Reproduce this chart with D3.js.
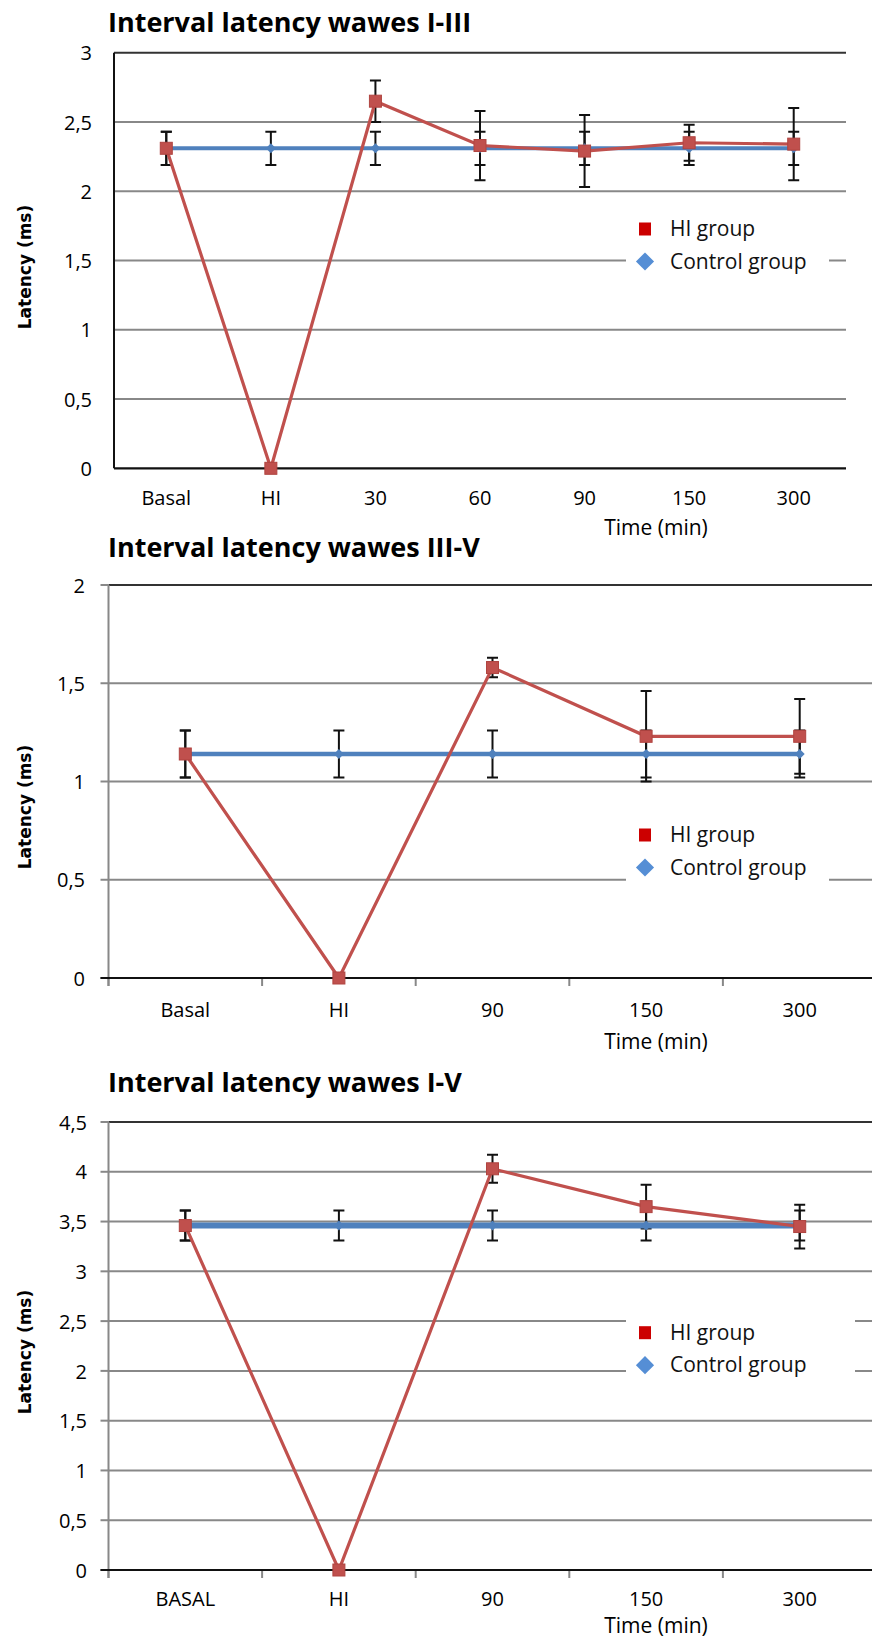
<!DOCTYPE html>
<html>
<head>
<meta charset="utf-8">
<script src="https://cdn.jsdelivr.net/npm/d3@7"></script>
<style>
  body { margin: 0; background: #fff; }
  svg { display: block; }
</style>
</head>
<body>
<svg id="chart" width="872" height="1638"></svg>
<script>
// ---- data ----
var titles = ['Interval latency wawes I-III', 'Interval latency wawes III-V', 'Interval latency wawes I-V'];

var cats1 = ['Basal', 'HI', '30', '60', '90', '150', '300'];
var hi1 = [2.31, 0, 2.65, 2.33, 2.29, 2.35, 2.34];
var hiErr1 = [0.12, null, 0.15, 0.25, 0.26, 0.13, 0.26];
var ctrl1 = [2.31, 2.31, 2.31, 2.31, 2.31, 2.31, 2.31];
var ctrlErr1 = [0.12, 0.12, 0.12, 0.12, 0.12, 0.12, 0.12];
var yTicks1 = [0, 0.5, 1, 1.5, 2, 2.5, 3];

var cats2 = ['Basal', 'HI', '90', '150', '300'];
var hi2 = [1.14, 0, 1.58, 1.23, 1.23];
var hiErr2 = [0.12, null, 0.05, 0.23, 0.19];
var ctrl2 = [1.14, 1.14, 1.14, 1.14, 1.14];
var ctrlErr2 = [0.12, 0.12, 0.12, 0.12, 0.12];
var yTicks2 = [0, 0.5, 1, 1.5, 2];

var cats3 = ['BASAL', 'HI', '90', '150', '300'];
var hi3 = [3.46, 0, 4.03, 3.65, 3.45];
var hiErr3 = [0.15, null, 0.14, 0.22, 0.22];
var ctrl3 = [3.46, 3.46, 3.46, 3.46, 3.46];
var ctrlErr3 = [0.15, 0.15, 0.15, 0.15, 0.15];
var yTicks3 = [0, 0.5, 1, 1.5, 2, 2.5, 3, 3.5, 4, 4.5];

var legendNames = ['HI group', 'Control group'];
var xTitle = 'Time (min)';
var yTitle = 'Latency (ms)';

var RED = '#C0504D', BLUE = '#4F81BD';
var svg = d3.select('#chart');

// layout of the 3 panels
var panels = [
  {title: titles[0], cats: cats1, hi: hi1, hiErr: hiErr1, ctrl: ctrl1, ctrlErr: ctrlErr1, ticks: yTicks1,
   top: 52.7, bottom: 468.3, left: 114, right: 846, titleY: 31.7, catY: 497.6, timeY: 527, yTitleY: 267,
   axisColor: '#111', tickMarks: false, labelRight: 92, legY: 229, legBg: [626, 829, 208, 286], blueW: 4},
  {title: titles[1], cats: cats2, hi: hi2, hiErr: hiErr2, ctrl: ctrl2, ctrlErr: ctrlErr2, ticks: yTicks2,
   top: 585, bottom: 978, left: 108.5, right: 876.5, titleY: 556.7, catY: 1010, timeY: 1041, yTitleY: 807,
   axisColor: '#888', tickMarks: true, labelRight: 85, legY: 835, legBg: [626, 829, 814, 890], blueW: 4.5},
  {title: titles[2], cats: cats3, hi: hi3, hiErr: hiErr3, ctrl: ctrl3, ctrlErr: ctrlErr3, ticks: yTicks3,
   top: 1122, bottom: 1570, left: 108.5, right: 876.5, titleY: 1092.4, catY: 1599, timeY: 1625, yTitleY: 1352,
   axisColor: '#888', tickMarks: true, labelRight: 87, legY: 1332.7, legBg: [626, 855, 1311, 1382], blueW: 6}
];

panels.forEach(drawPanel);

function fmt(v) {
  return String(v).replace('.', ',');
}

function drawPanel(p) {
  var g = svg.append('g');
  var ymax = d3.max(p.ticks);
  var y = d3.scaleLinear().domain([0, ymax]).range([p.bottom, p.top]);
  var x = d3.scaleBand().domain(p.cats).range([p.left, p.right]).padding(0);
  var cx = function(d, i) { return x(p.cats[i]) + x.bandwidth() / 2; };

  // title
  g.append('text')
    .attr('x', 108)
    .attr('y', p.titleY)
    .attr('font-family', 'Open Sans')
    .attr('font-weight', 'bold')
    .attr('font-size', 27)
    .attr('fill', '#000')
    .text(p.title);

  // gridlines
  g.selectAll('.grid')
    .data(p.ticks.filter(function(t) { return t > 0; }))
    .enter()
    .append('line')
    .attr('x1', p.left)
    .attr('x2', p.right)
    .attr('y1', function(d) { return y(d); })
    .attr('y2', function(d) { return y(d); })
    .attr('stroke', function(d) { return d == ymax ? '#333' : '#888'; })
    .attr('stroke-width', 2);

  // y tick marks (left of axis) for panels 2,3
  if (p.tickMarks) {
    g.selectAll('.ytick')
      .data(p.ticks)
      .enter()
      .append('line')
      .attr('x1', p.left - 8)
      .attr('x2', p.left)
      .attr('y1', function(d) { return y(d); })
      .attr('y2', function(d) { return y(d); })
      .attr('stroke', '#888')
      .attr('stroke-width', 2);
    // x tick marks at band boundaries
    var bounds = p.cats.map(function(c) { return x(c); }).concat([p.right]);
    g.selectAll('.xtick')
      .data(bounds)
      .enter()
      .append('line')
      .attr('x1', function(d) { return d; })
      .attr('x2', function(d) { return d; })
      .attr('y1', p.bottom)
      .attr('y2', p.bottom + 8)
      .attr('stroke', '#888')
      .attr('stroke-width', 2);
  }

  // y axis line
  g.append('line')
    .attr('x1', p.left).attr('x2', p.left)
    .attr('y1', p.top).attr('y2', p.bottom + (p.tickMarks ? 8 : 0))
    .attr('stroke', p.axisColor)
    .attr('stroke-width', 2);
  // x axis line (0)
  g.append('line')
    .attr('x1', p.left - (p.tickMarks ? 8 : 0)).attr('x2', p.right)
    .attr('y1', p.bottom).attr('y2', p.bottom)
    .attr('stroke', '#111')
    .attr('stroke-width', 2.2);

  // y tick labels via d3 axis
  var yAxis = d3.axisLeft(y).tickValues(p.ticks).tickSize(0).tickPadding(0).tickFormat(fmt);
  var ya = g.append('g')
    .attr('transform', 'translate(' + p.labelRight + ',0)')
    .call(yAxis);
  ya.select('.domain').remove();
  ya.selectAll('text')
    .attr('font-family', 'Open Sans')
    .attr('font-size', 20)
    .attr('fill', '#000')
    .attr('dy', '0.36em');

  // x tick labels via d3 axis
  var xAxis = d3.axisBottom(x).tickSize(0).tickPadding(0);
  var xa = g.append('g')
    .attr('transform', 'translate(0,' + p.catY + ')')
    .call(xAxis);
  xa.select('.domain').remove();
  xa.selectAll('text')
    .attr('font-family', 'Open Sans')
    .attr('font-size', 20)
    .attr('fill', '#000')
    .attr('dy', '0.36em');

  // axis titles
  g.append('text')
    .attr('x', 656)
    .attr('y', p.timeY)
    .attr('dy', '0.36em')
    .attr('text-anchor', 'middle')
    .attr('font-family', 'Open Sans')
    .attr('font-size', 21)
    .attr('fill', '#000')
    .text(xTitle);
  g.append('text')
    .attr('transform', 'translate(25,' + p.yTitleY + ') rotate(-90)')
    .attr('dy', '0.36em')
    .attr('text-anchor', 'middle')
    .attr('font-family', 'DejaVu Sans')
    .attr('font-weight', 'bold')
    .attr('font-size', 17)
    .attr('fill', '#000')
    .text(yTitle);

  // legend box (white, hides gridlines)
  var lb = p.legBg;
  g.append('rect')
    .attr('x', lb[0]).attr('y', lb[2])
    .attr('width', lb[1] - lb[0]).attr('height', lb[3] - lb[2])
    .attr('fill', '#fff');
  g.append('rect')
    .attr('x', 639).attr('y', p.legY - 6.5)
    .attr('width', 12).attr('height', 13)
    .attr('fill', '#CC0000');
  g.append('path')
    .attr('d', d3.symbol().type(d3.symbolSquare).size(165))
    .attr('transform', 'translate(645,' + (p.legY + 32.5) + ') rotate(45)')
    .attr('fill', '#558ED5');
  g.selectAll('.legtext')
    .data(legendNames)
    .enter()
    .append('text')
    .attr('x', 670)
    .attr('y', function(d, i) { return p.legY + 7 + i * 32.5; })
    .attr('font-family', 'Open Sans')
    .attr('font-size', 21)
    .attr('fill', '#111')
    .text(function(d) { return d; });

  // error bars (drawn under lines/markers)
  var errs = [];
  p.ctrl.forEach(function(v, i) {
    if (p.ctrlErr[i] != null) errs.push({i: i, v: v, e: p.ctrlErr[i]});
  });
  p.hi.forEach(function(v, i) {
    if (p.hiErr[i] != null) errs.push({i: i, v: v, e: p.hiErr[i]});
  });
  g.selectAll('.err')
    .data(errs)
    .enter()
    .append('path')
    .attr('fill', 'none')
    .attr('stroke', '#111')
    .attr('stroke-width', 2)
    .attr('d', function(d) {
      var xx = x(p.cats[d.i]) + x.bandwidth() / 2;
      var y1 = y(d.v + d.e), y2 = y(d.v - d.e);
      return 'M' + (xx - 5.5) + ' ' + y1 + ' L' + (xx + 5.5) + ' ' + y1 +
             ' M' + xx + ' ' + y1 + ' L' + xx + ' ' + y2 +
             ' M' + (xx - 5.5) + ' ' + y2 + ' L' + (xx + 5.5) + ' ' + y2;
    });

  // control line + diamonds
  var line = d3.line()
    .x(function(d, i) { return cx(d, i); })
    .y(function(d) { return y(d); });
  g.append('path')
    .datum(p.ctrl)
    .attr('fill', 'none')
    .attr('stroke', BLUE)
    .attr('stroke-width', p.blueW)
    .attr('d', line);
  g.selectAll('.dia')
    .data(p.ctrl)
    .enter()
    .append('path')
    .attr('d', d3.symbol().type(d3.symbolSquare).size(50))
    .attr('transform', function(d, i) { return 'translate(' + cx(d, i) + ',' + y(d) + ') rotate(45)'; })
    .attr('fill', BLUE);

  // HI line + squares
  g.append('path')
    .datum(p.hi)
    .attr('fill', 'none')
    .attr('stroke', RED)
    .attr('stroke-width', 3.2)
    .attr('d', line);
  g.selectAll('.sq')
    .data(p.hi)
    .enter()
    .append('rect')
    .attr('x', function(d, i) { return cx(d, i) - 6; })
    .attr('y', function(d) { return y(d) - 6; })
    .attr('width', 12)
    .attr('height', 12)
    .attr('fill', RED)
    .attr('stroke', '#B04440')
    .attr('stroke-width', 1);
}
</script>
</body>
</html>
